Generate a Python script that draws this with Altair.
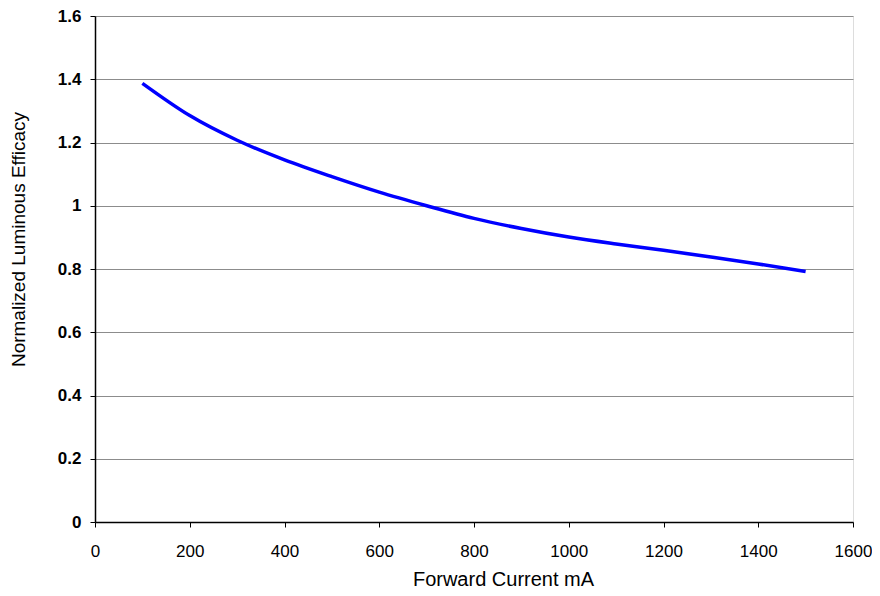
import altair as alt
import pandas as pd

current_ma = [100, 200, 300, 400, 500, 600, 700, 800, 900, 1000, 1100, 1200, 1300, 1400, 1500]
efficacy = [1.387, 1.285, 1.207, 1.145, 1.092, 1.043, 1.000, 0.960, 0.928, 0.901, 0.879, 0.859, 0.838, 0.816, 0.792]

x_ticks = [0, 200, 400, 600, 800, 1000, 1200, 1400, 1600]
y_ticks = [0, 0.2, 0.4, 0.6, 0.8, 1.0, 1.2, 1.4, 1.6]

df = pd.DataFrame({"current": current_ma, "eff": efficacy})

FONT = "Liberation Sans"

chart = alt.Chart(df).mark_line(color="#0000FF", strokeWidth=3.5, interpolate="monotone").encode(
    x=alt.X("current:Q", scale=alt.Scale(domain=[0, 1600], nice=False),
            axis=alt.Axis(values=x_ticks, title="Forward Current mA", grid=False,
                          labelExpr="'' + datum.value",
                          domainColor="black", domainWidth=1.5, tickColor="black", tickSize=5,
                          labelFont=FONT, labelFontSize=17, labelColor="black", labelPadding=16,
                          titleFont=FONT, titleFontSize=20, titleFontWeight="normal", titleColor="black",
                          titleX=408, titleY=63, titleAlign="center", titleBaseline="alphabetic",
                          labelFlush=False)),
    y=alt.Y("eff:Q", scale=alt.Scale(domain=[0, 1.6], nice=False),
            axis=alt.Axis(values=y_ticks, title="Normalized Luminous Efficacy", grid=True,
                          labelExpr="'' + datum.value",
                          gridColor="#8c8c8c", gridWidth=1,
                          domainColor="black", domainWidth=1.5, tickColor="black", tickSize=5,
                          labelFont=FONT, labelFontSize=17, labelFontWeight="bold", labelColor="black",
                          labelPadding=9, labelFlush=False,
                          titleFont=FONT, titleFontSize=19, titleFontWeight="normal", titleColor="black",
                          titleX=-77, titleY=223, titleAlign="center", titleBaseline="middle",
                          titleAngle=270)),
).properties(
    width=758,
    height=506,
    autosize=alt.AutoSizeParams(type="none"),
    padding={"left": 87, "top": 8, "right": 19, "bottom": 66},
).configure_view(
    stroke="#808080", strokeWidth=1.5
).configure(background="white")

chart.save("out.html", embed_options={"renderer": "svg", "actions": False})
